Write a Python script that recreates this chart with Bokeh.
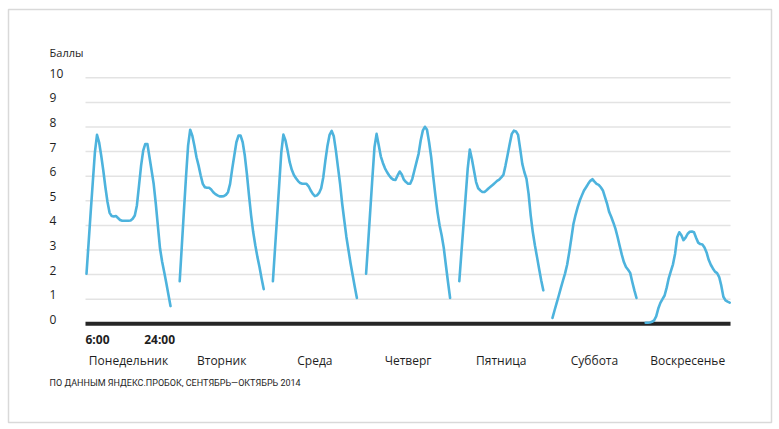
from bokeh.plotting import figure
from bokeh.models import Range1d
from bokeh.core.properties import value
from bokeh.embed import file_html
from bokeh.resources import INLINE

# ---- data ----
DAYS = ["Понедельник", "Вторник", "Среда", "Четверг", "Пятница", "Суббота", "Воскресенье"]
HOURS = [6.0 + 0.5 * i for i in range(41)]   # 6:00 ... 2:00 next day, half-hour steps

MON = [2.04, 3.28, 4.54, 5.76, 6.97, 7.68, 7.38, 6.84, 6.23, 5.55, 4.95, 4.51, 4.38, 4.36, 4.38,
       4.30, 4.22, 4.19, 4.19, 4.19, 4.19, 4.20, 4.27, 4.40, 4.81, 5.62, 6.43, 7.04, 7.31, 7.31,
       6.77, 6.23, 5.68, 4.88, 3.97, 3.07, 2.53, 2.11, 1.66, 1.19, 0.72]
TUE = [1.73, 3.15, 4.57, 5.96, 7.24, 7.89, 7.65, 7.24, 6.77, 6.43, 6.03, 5.69, 5.55, 5.53, 5.53,
       5.46, 5.35, 5.27, 5.22, 5.18, 5.18, 5.19, 5.24, 5.35, 5.69, 6.30, 6.84, 7.38, 7.65, 7.65,
       7.38, 6.84, 6.09, 5.22, 4.41, 3.73, 3.19, 2.72, 2.31, 1.84, 1.41]
WED = [1.73, 3.04, 4.34, 5.65, 6.97, 7.69, 7.45, 7.04, 6.57, 6.26, 6.05, 5.92, 5.80, 5.72, 5.69,
       5.69, 5.69, 5.59, 5.42, 5.28, 5.19, 5.22, 5.32, 5.51, 5.96, 6.64, 7.24, 7.68, 7.84, 7.62,
       7.04, 6.36, 5.69, 4.88, 4.20, 3.53, 2.99, 2.45, 1.97, 1.50, 1.05]
THU = [2.04, 3.31, 4.62, 5.93, 7.18, 7.72, 7.27, 6.81, 6.54, 6.32, 6.16, 6.03, 5.92, 5.86, 5.85,
       6.03, 6.19, 6.07, 5.86, 5.76, 5.69, 5.69, 5.89, 6.23, 6.57, 6.91, 7.45, 7.85, 8.01, 7.89,
       7.38, 6.77, 5.96, 5.22, 4.54, 4.00, 3.59, 3.08, 2.38, 1.70, 1.05]
FRI = [1.73, 2.88, 4.01, 5.15, 6.30, 7.08, 6.70, 6.23, 5.76, 5.51, 5.42, 5.36, 5.36, 5.43, 5.51,
       5.58, 5.65, 5.73, 5.81, 5.86, 5.95, 6.05, 6.43, 6.86, 7.31, 7.72, 7.85, 7.82, 7.68, 7.11,
       6.50, 6.16, 5.89, 5.28, 4.41, 3.73, 3.19, 2.72, 2.24, 1.77, 1.36]
SAT = [0.24, 0.55, 0.85, 1.15, 1.46, 1.76, 2.05, 2.41, 2.92, 3.49, 4.07, 4.43, 4.74, 5.01, 5.22,
       5.42, 5.55, 5.69, 5.81, 5.88, 5.78, 5.69, 5.65, 5.55, 5.42, 5.15, 4.88, 4.54, 4.34, 4.11,
       3.86, 3.53, 3.16, 2.81, 2.51, 2.31, 2.20, 2.07, 1.70, 1.36, 1.05]
SUN = [0.04, 0.04, 0.05, 0.08, 0.14, 0.30, 0.62, 0.85, 1.00, 1.15, 1.47, 1.86, 2.14, 2.42, 2.85,
       3.52, 3.72, 3.60, 3.40, 3.50, 3.66, 3.74, 3.75, 3.72, 3.50, 3.30, 3.24, 3.22, 3.10, 2.90,
       2.60, 2.40, 2.25, 2.12, 2.06, 1.90, 1.55, 1.10, 0.95, 0.90, 0.86]
SERIES = [MON, TUE, WED, THU, FRI, SAT, SUN]

Y_TICKS = [0, 1, 2, 3, 4, 5, 6, 7, 8, 9, 10]
TIME_TICKS = [6, 24]
TIME_LABELS = ["6:00", "24:00"]
Y_TITLE = "Баллы"
SOURCE = "ПО ДАННЫМ ЯНДЕКС.ПРОБОК, СЕНТЯБРЬ—ОКТЯБРЬ 2014"

# ---- layout constants ----
DAY_STRIDE = 22.19          # hours of x-space per day incl. gap
LABEL_X = -8.8
FONT = value("Open Sans")
TEXT_COLOR = "#1e1e1e"
YOFF = -4.5

def xpos(d, h):
    return d * DAY_STRIDE + (h - 6)

xs = [[xpos(d, h) for h in HOURS] for d in range(len(SERIES))]
ys = SERIES

x_end = max(max(x) for x in xs) + 0.2
x_start = -0.24

p = figure(width=779, height=429,
           x_range=Range1d(-18.571, 163.095), y_range=Range1d(-4.012, 12.776),
           x_axis_type=None, y_axis_type=None,
           toolbar_location=None, output_backend="svg",
           min_border_left=8, min_border_right=8, min_border_top=9, min_border_bottom=7,
           background_fill_color="white", border_fill_color="white")
p.outline_line_color = "#d9d9d9"
p.outline_line_width = 1.5

# grid lines
grid_vals = [t for t in Y_TICKS if t > 0]
p.segment(x0=[x_start] * len(grid_vals), y0=grid_vals, x1=[x_end] * len(grid_vals), y1=grid_vals,
          line_color="#e3e3e3", line_width=1.5)
# baseline
p.segment(x0=[x_start], y0=[0], x1=[x_end], y1=[0], line_color="#262626", line_width=4)

# data lines
p.multi_line(xs=xs, ys=ys, line_color="#4db3dd", line_width=2.6,
             line_join="round", line_cap="round")

# y tick labels
p.text(x=[LABEL_X] * len(Y_TICKS), y=Y_TICKS, text=[str(t) for t in Y_TICKS],
       text_font=FONT, text_font_size="12px", text_align="left",
       text_baseline="alphabetic", text_color=TEXT_COLOR, y_offset=YOFF)
p.text(x=[LABEL_X], y=[10.84], text=[Y_TITLE], text_font=FONT, text_font_size="11px",
       text_align="left", text_baseline="alphabetic", text_color=TEXT_COLOR, y_offset=YOFF)

# time labels
p.text(x=[xpos(0, TIME_TICKS[0]) - 0.24], y=[-0.84], text=[TIME_LABELS[0]], text_font=FONT,
       text_font_size="12px", text_font_style="bold", text_align="left",
       text_baseline="alphabetic", text_color=TEXT_COLOR, y_offset=YOFF)
p.text(x=[xpos(0, TIME_TICKS[1])], y=[-0.84], text=[TIME_LABELS[1]], text_font=FONT,
       text_font_size="12px", text_font_style="bold", text_align="center",
       text_baseline="alphabetic", text_color=TEXT_COLOR, x_offset=-2.5, y_offset=YOFF)

# day labels
p.text(x=[xpos(d, 16) for d in range(len(DAYS))], y=[-1.695] * len(DAYS), text=DAYS,
       text_font=FONT, text_font_size="12px", text_align="center",
       text_baseline="alphabetic", text_color=TEXT_COLOR, y_offset=YOFF)

# source
p.text(x=[LABEL_X], y=[-2.55], text=[SOURCE],
       text_font=value("Roboto"), text_font_size="9px",
       text_align="left", text_baseline="alphabetic", text_color=TEXT_COLOR, y_offset=YOFF + 1)

open("out.html", "w").write(file_html(p, INLINE))
